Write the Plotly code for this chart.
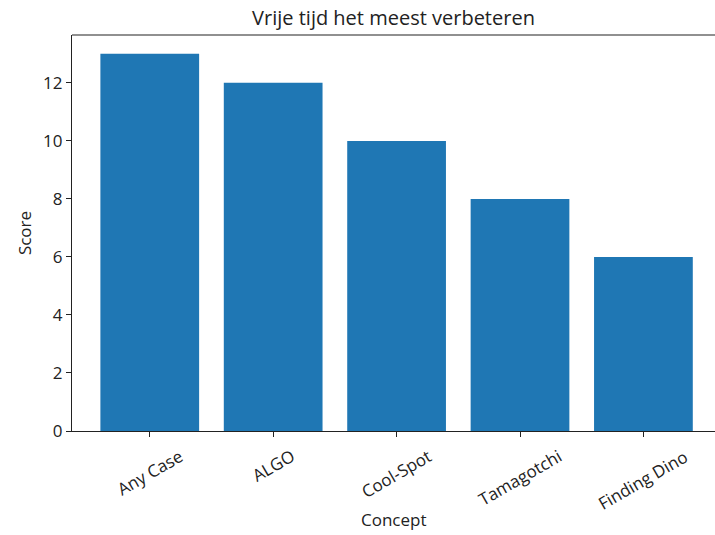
import plotly.graph_objects as go

concepts = ["Any Case", "ALGO", "Cool-Spot", "Tamagotchi", "Finding Dino"]
scores = [13, 12, 10, 8, 6]
y_ticks = [0, 2, 4, 6, 8, 10, 12]

FONT = "Open Sans"
INK = "#222222"
HEIGHT = 535
LABEL_SIZE = 17

fig = go.Figure(
    go.Bar(
        x=list(range(len(concepts))),
        y=scores,
        width=0.8,
        marker=dict(color="#1f77b4", line=dict(width=0)),
    )
)

# rotated category labels, centred under each tick
annotations = [
    dict(
        x=i, y=0, xref="x", yref="paper",
        text=name, showarrow=False, textangle=-30,
        xanchor="center", yanchor="top", yshift=-11,
        font=dict(family=FONT, size=LABEL_SIZE, color=INK),
    )
    for i, name in enumerate(concepts)
]
annotations.append(
    dict(
        x=0.5, y=0, xref="paper", yref="paper",
        text="Concept", showarrow=False,
        xanchor="center", yanchor="middle", yshift=-88,
        font=dict(family=FONT, size=LABEL_SIZE, color=INK),
    )
)

# top frame line (the right edge of the frame falls outside the canvas)
shapes = [
    dict(type="line", xref="paper", yref="paper", x0=0, x1=1, y0=1, y1=1,
         line=dict(color=INK, width=1.2)),
]

fig.update_layout(
    template="none",
    width=715, height=HEIGHT,
    margin=dict(l=72, r=0, t=35, b=104),
    paper_bgcolor="white", plot_bgcolor="white",
    showlegend=False,
    font=dict(family=FONT, size=LABEL_SIZE, color=INK),
    title=dict(
        text="Vrije tijd het meest verbeteren",
        x=0.5, xref="paper", xanchor="center",
        y=1 - 18 / HEIGHT, yref="container", yanchor="middle",
        font=dict(family=FONT, size=20, color=INK),
    ),
    xaxis=dict(
        range=[-0.63, 4.58],
        tickvals=list(range(len(concepts))),
        showticklabels=False,
        ticks="outside", ticklen=5, tickwidth=1, tickcolor=INK,
        showline=True, linecolor=INK, linewidth=1.2,
        showgrid=False, zeroline=False,
    ),
    yaxis=dict(
        range=[0, 13.65],
        tickvals=y_ticks,
        ticks="outside", ticklen=5, tickwidth=1, tickcolor=INK,
        tickfont=dict(family=FONT, size=LABEL_SIZE, color=INK),
        showline=True, linecolor=INK, linewidth=1.2,
        showgrid=False, zeroline=False,
        title=dict(text="Score", standoff=7,
                   font=dict(family=FONT, size=LABEL_SIZE, color=INK)),
    ),
    shapes=shapes,
    annotations=annotations,
)

fig.write_html("out.html")
